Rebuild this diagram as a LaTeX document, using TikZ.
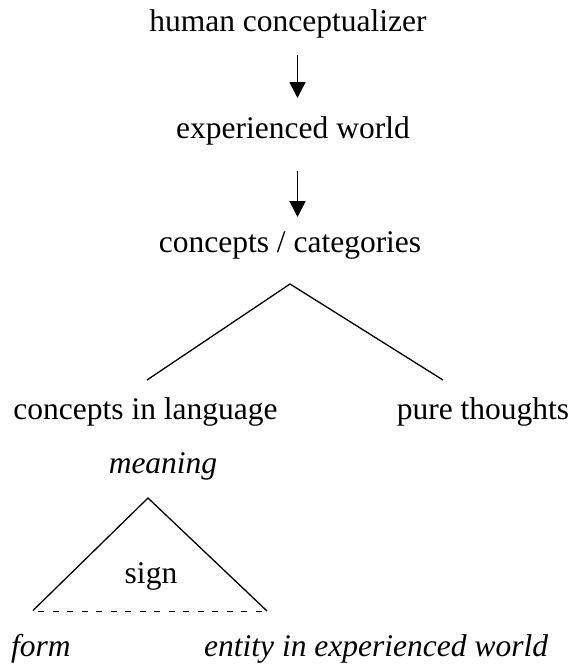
\documentclass[tikz,border=0pt]{standalone}
\usepackage{fontspec}
\setmainfont{Liberation Serif}
\usetikzlibrary{arrows.meta}
\begin{document}
\begin{tikzpicture}[x=1pt,y=-1pt,
  lbl/.style={anchor=base,inner sep=0pt,font=\fontsize{31.5}{36}\selectfont},
  ilbl/.style={lbl,font=\fontsize{31.5}{36}\selectfont\itshape},
  arr/.style={-{Triangle[length=16pt,width=16pt]},line width=1.6pt},
  ln/.style={line width=1.3pt}]
\useasboundingbox (0,0) rectangle (574,664);
\node[lbl] (hc) at (288,31.7) {human conceptualizer};
\node[lbl] (ew) at (293,138) {experienced world};
\node[lbl] (cc) at (290,252) {concepts / categories};
\node[lbl] (cl) at (145.5,419) {concepts in language};
\node[lbl] (pt) at (483,419) {pure thoughts};
\node[ilbl] (me) at (163,473) {meaning};
\node[lbl] (sg) at (151,583) {sign};
\node[ilbl,anchor=base west] (fo) at (11,656) {form};
\node[ilbl,anchor=base west] (en) at (204,656) {entity in experienced world};
\coordinate (a1s) at (297.5,55);
\coordinate (a1e) at (297.5,98);
\coordinate (a2s) at (297.5,171);
\coordinate (a2e) at (297.5,217);
\draw[arr] (a1s) -- (a1e);
\draw[arr] (a2s) -- (a2e);
\coordinate (ta) at (290,284);
\coordinate (tl) at (147,380);
\coordinate (tr) at (443,380);
\draw[ln] (tl) -- (ta) -- (tr);
\coordinate (sa) at (148,498);
\coordinate (sl) at (33,610.5);
\coordinate (sr) at (267,611);
\draw[ln] (sl) -- (sa) -- (sr);
\draw[ln,dash pattern=on 6pt off 8.5pt] (38,611.5) -- (270,611.5);
\end{tikzpicture}
\end{document}
